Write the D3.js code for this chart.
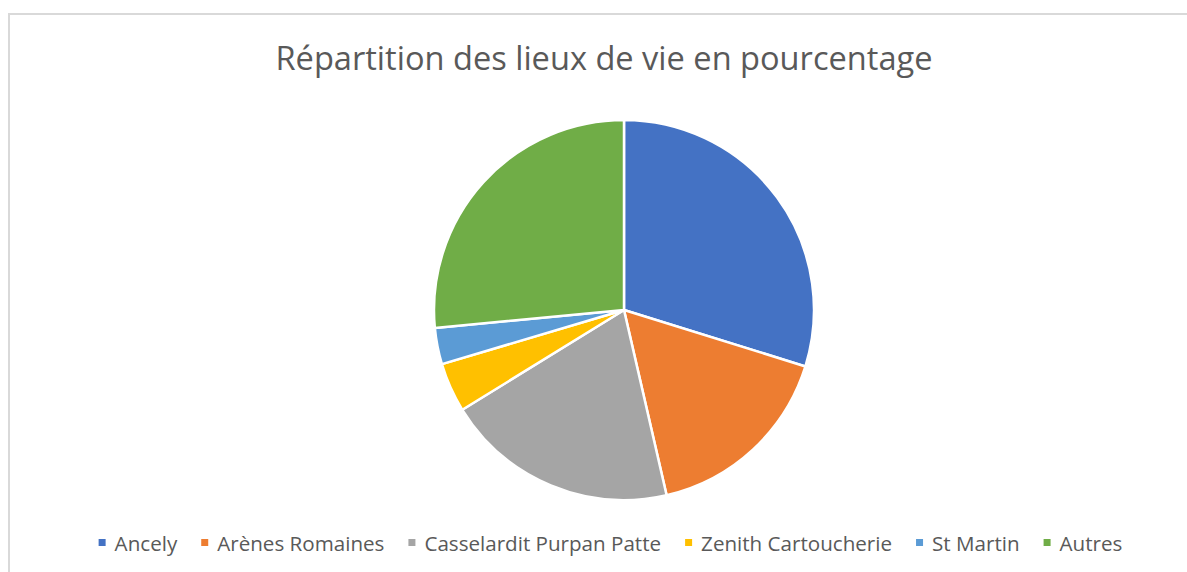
<!DOCTYPE html>
<html>
<head>
<meta charset="utf-8">
<script src="https://cdn.jsdelivr.net/npm/d3@7"></script>
<style>
  body { margin: 0; background: #fff; }
  text { font-family: "Open Sans", sans-serif; fill: #595959; }
</style>
</head>
<body>
<div id="chart"></div>
<script>
// lieux de vie + pourcentages
var lieux = ["Ancely", "Arènes Romaines", "Casselardit Purpan Patte", "Zenith Cartoucherie", "St Martin", "Autres"];
var pourcentages = [29.8, 16.6, 19.8, 4.2, 3.1, 26.5];
var couleurs = ["#4472C4", "#ED7D31", "#A5A5A5", "#FFC000", "#5B9BD5", "#70AD47"];
var titre = "Répartition des lieux de vie en pourcentage";

var width = 1187, height = 572;
var cx = 624, cy = 310, radius = 190;

var svg = d3.select("#chart")
  .append("svg")
  .attr("width", width)
  .attr("height", height);

// cadre du graphique (coupe a droite et en bas)
svg.append("rect")
  .attr("x", 9)
  .attr("y", 14)
  .attr("width", 1240)
  .attr("height", 600)
  .attr("fill", "#fff")
  .attr("stroke", "#d9d9d9")
  .attr("stroke-width", 2);

svg.append("text")
  .attr("x", 604)
  .attr("y", 70)
  .attr("text-anchor", "middle")
  .style("font-size", "32.6px")
  .text(titre);

var data = lieux.map(function(d, i) { return {lieu: d, valeur: pourcentages[i]}; });

var color = d3.scaleOrdinal()
  .domain(lieux)
  .range(couleurs);

var pie = d3.pie()
  .value(function(d) { return d.valeur; })
  .sort(null);

var arc = d3.arc()
  .innerRadius(0)
  .outerRadius(radius);

var g = svg.append("g")
  .attr("transform", "translate(" + cx + "," + cy + ")");

g.selectAll("path")
  .data(pie(data))
  .enter()
  .append("path")
  .attr("d", arc)
  .attr("fill", function(d) { return color(d.data.lieu); })
  .attr("stroke", "#fff")
  .attr("stroke-width", 2.5)
  .attr("stroke-linejoin", "round");

// legende en bas, centree
var legende = svg.append("g");
var items = legende.selectAll("g")
  .data(lieux)
  .enter()
  .append("g");

items.append("rect")
  .attr("width", 7)
  .attr("height", 7)
  .attr("y", -12)
  .attr("fill", function(d) { return color(d); });

items.append("text")
  .attr("x", 16)
  .attr("y", 0)
  .style("font-size", "20.6px")
  .text(function(d) { return d; });

var xpos = 0;
items.each(function() {
  var item = d3.select(this);
  item.attr("transform", "translate(" + xpos + ",0)");
  var w = item.select("text").node().getComputedTextLength();
  xpos += 16 + w + 24;
});
var total = xpos - 24;
legende.attr("transform", "translate(" + (610.5 - total / 2) + ",551)");
</script>
</body>
</html>
